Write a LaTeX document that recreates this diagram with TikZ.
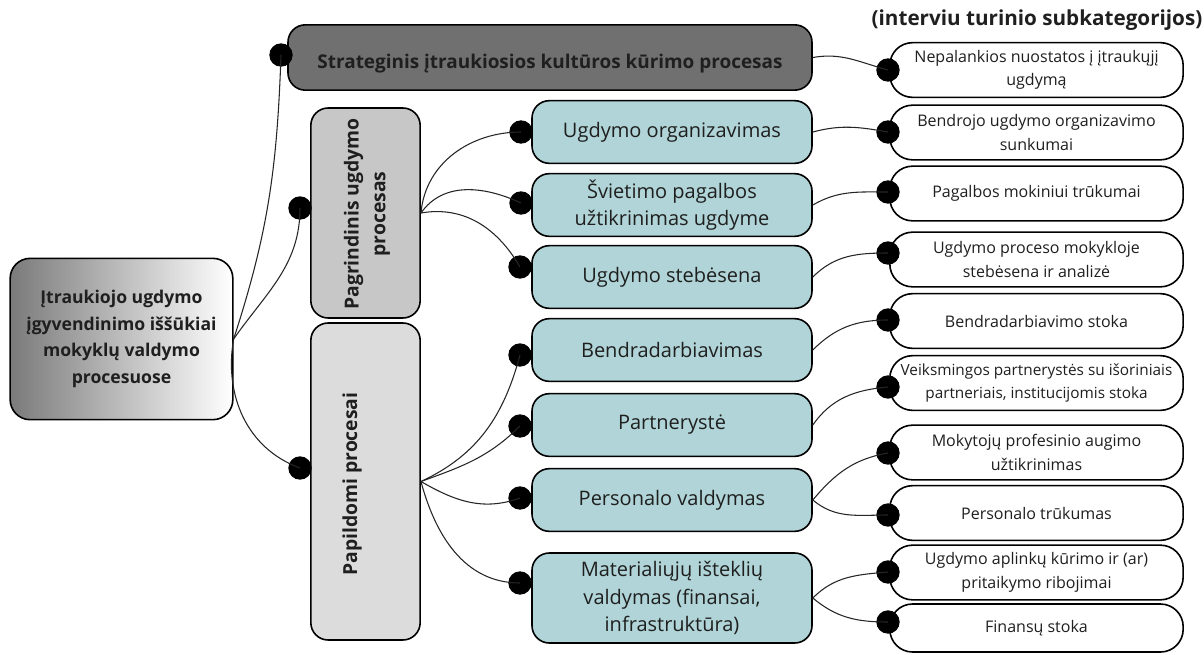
\documentclass[tikz,border=0pt]{standalone}
\usepackage{fontspec}
\setmainfont{Open Sans}
\begin{document}
\begin{tikzpicture}[x=0.75pt,y=-0.75pt,
  ink/.style={text=black!88},
  rootbox/.style={draw=black, line width=1.2pt, rounded corners=15pt, left color=black!52, right color=white,
    minimum width=167pt, minimum height=121pt, inner sep=0pt, align=center, ink,
    font=\bfseries\fontsize{13.2}{20}\selectfont},
  stratbox/.style={draw=black, line width=1.2pt, rounded corners=13pt, fill=stratfill,
    minimum width=393pt, minimum height=49pt, inner sep=0pt},
  procbox/.style={draw=black, line width=1.2pt, rounded corners=13pt, minimum width=82pt, inner sep=0pt},
  tealbox/.style={draw=black, line width=1.2pt, rounded corners=13pt, fill=tealfill,
    minimum width=210pt, minimum height=47pt, inner sep=0pt, align=center, ink,
    font=\fontsize{15}{20.5}\selectfont},
  subbox/.style={draw=black, line width=1.2pt, rounded corners=17pt, fill=white,
    minimum width=220pt, minimum height=41pt, inner sep=0pt, align=center, ink,
    font=\fontsize{12}{17.5}\selectfont},
  dot/.style={circle, fill=black, minimum size=17.5pt, inner sep=0pt},
  link/.style={draw=black!85, line width=0.8pt},
  boldtxt/.style={ink, font=\bfseries\fontsize{14.5}{20}\selectfont, align=center}]
\definecolor{stratfill}{RGB}{112,112,112}
\definecolor{primfill}{RGB}{199,199,199}
\definecolor{suppfill}{RGB}{220,220,220}
\definecolor{tealfill}{RGB}{176,212,215}
\useasboundingbox (0,0) rectangle (1204,654);

% header of the right-hand column
\node[ink, font=\bfseries\fontsize{15.5}{18}\selectfont] (head) at (1037,20) {(interviu turinio subkategorijos)};

% root
\node[rootbox] (root) at (121.5,339) {Įtraukiojo ugdymo\\įgyvendinimo iššūkiai\\mokyklų valdymo\\procesuose};

% process level
\node[stratbox] (strat) at (550,57.5) {};
\node[boldtxt, font=\bfseries\fontsize{14.2}{18}\selectfont] (strattxt) at (550,64) {Strateginis įtraukiosios kultūros kūrimo procesas};
\node[procbox, fill=primfill, minimum height=157.5pt] (prim) at (365.5,213) {};
\node[boldtxt, rotate=90] (primtxt) at (367,214) {Pagrindinis ugdymo\\procesas};
\node[procbox, fill=suppfill, minimum height=237.75pt] (supp) at (365.5,481.5) {};
\node[boldtxt, rotate=90] (supptxt) at (352,484) {Papildomi procesai};

% areas
\node[tealbox] (t1) at (672,132) {Ugdymo organizavimas};
\node[tealbox] (t2) at (672,205) {Švietimo pagalbos\\užtikrinimas ugdyme};
\node[tealbox] (t3) at (672,277) {Ugdymo stebėsena};
\node[tealbox] (t4) at (672,350) {Bendradarbiavimas};
\node[tealbox] (t5) at (672,425) {Partnerystė};
\node[tealbox] (t6) at (672,500) {Personalo valdymas};
\node[tealbox, minimum height=67.5pt] (t7) at (672,598) {Materialiųjų išteklių\\valdymas (finansai,\\infrastruktūra)};

% subcategories
\node[subbox] (r1) at (1036.5,70) {Nepalankios nuostatos į įtraukųjį\\ugdymą};
\node[subbox] (r2) at (1036.5,132.5) {Bendrojo ugdymo organizavimo\\sunkumai};
\node[subbox] (r3) at (1036.5,193.5) {Pagalbos mokiniui trūkumai};
\node[subbox] (r4) at (1036.5,259.5) {Ugdymo proceso mokykloje\\stebėsena ir analizė};
\node[subbox] (r5) at (1036.5,321) {Bendradarbiavimo stoka};
\node[subbox, font=\fontsize{11.5}{17.5}\selectfont] (r6) at (1036.5,383) {Veiksmingos partnerystės su išoriniais\\partneriais, institucijomis stoka};
\node[subbox] (r7) at (1036.5,452.5) {Mokytojų profesinio augimo\\užtikrinimas};
\node[subbox] (r8) at (1036.5,513) {Personalo trūkumas};
\node[subbox] (r9) at (1036.5,572.5) {Ugdymo aplinkų kūrimo ir (ar)\\pritaikymo ribojimai};
\node[subbox, minimum height=36pt] (r10) at (1036.5,628) {Finansų stoka};

% connector dots
\node[dot] (ds) at (281,55) {};
\node[dot] (dp) at (300,208) {};
\node[dot] (dq) at (300,468) {};
\node[dot] (d1) at (521,132) {};
\node[dot] (d2) at (521,203) {};
\node[dot] (d3) at (520,267) {};
\node[dot] (d4) at (520,355) {};
\node[dot] (d5) at (520,426) {};
\node[dot] (d6) at (520,498) {};
\node[dot] (d7) at (520,583) {};
\node[dot] (e1) at (888,70) {};
\node[dot] (e2) at (888,132) {};
\node[dot] (e3) at (888,192) {};
\node[dot] (e4) at (888,253) {};
\node[dot] (e5) at (888,320) {};
\node[dot] (e6) at (888,387) {};
\node[dot] (e7) at (888,453) {};
\node[dot] (e8) at (888,515) {};
\node[dot] (e9) at (888,572) {};
\node[dot] (e10) at (888,622) {};

% root to processes
\draw[link] (root.east) to[out=72,in=-92] (ds.center);
\draw[link] (root.east) to[out=55,in=-90] (dp.center);
\draw[link] (root.east) to[out=-100,in=160] (dq.center);

% processes to areas
\draw[link] (prim.east) to[out=85,in=180] (d1.center);
\draw[link] (prim.east) to[out=55,in=155] (d2.center);
\draw[link] (prim.east) to[out=10,in=120] (d3.center);
\draw[link] (supp.east) to[out=25,in=-105] (d4.center);
\draw[link] (supp.east) to[out=20,in=-135] (d5.center);
\draw[link] (supp.east) to[out=-30,in=200] (d6.center);
\draw[link] (supp.east) to[out=-75,in=180] (d7.center);

% areas to subcategories
\draw[link] (strat.east) to[out=10,in=165] (e1.center);
\draw[link] (t1.east) to[out=15,in=170] (e2.center);
\draw[link] (t2.east) to[out=30,in=180] (e3.center);
\draw[link] (t3.east) to[out=45,in=180] (e4.center);
\draw[link] (t4.east) to[out=45,in=180] (e5.center);
\draw[link] (t5.east) to[out=55,in=185] (e6.center);
\draw[link] (t6.east) to[out=50,in=190] (e7.center);
\draw[link] (t6.east) to[out=-40,in=180] (e8.center);
\draw[link] (t7.east) to[out=45,in=185] (e9.center);
\draw[link] (t7.east) to[out=-40,in=180] (e10.center);
\end{tikzpicture}
\end{document}
